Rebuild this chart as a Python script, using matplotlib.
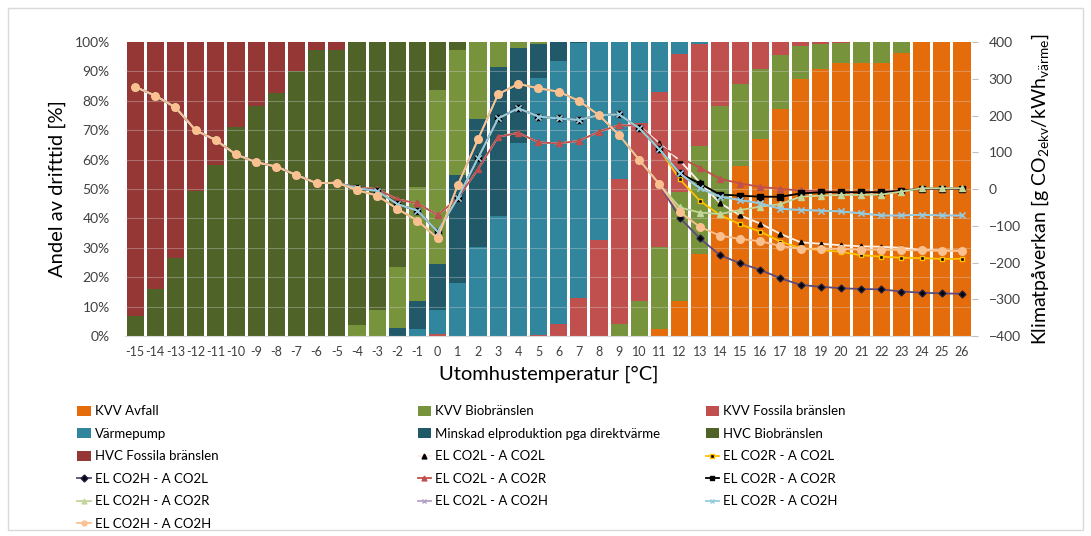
import numpy as np
import pandas as pd
import matplotlib
matplotlib.use("Agg")
import matplotlib.pyplot as plt
from matplotlib.patches import Patch, Rectangle
from matplotlib.lines import Line2D

plt.rcParams['font.family'] = ['Lato', 'DejaVu Sans']
plt.rcParams['mathtext.fontset'] = 'custom'
plt.rcParams['mathtext.rm'] = 'Lato'
plt.rcParams['mathtext.it'] = 'Lato:italic'

temps = list(range(-15, 27))

# stacked shares [%]
kvv_avfall = [0, 0, 0, 0, 0, 0, 0, 0, 0, 0, 0, 0, 0, 0, 0, 0, 0, 0, 0, 0, 0, 0, 0, 0, 0, 0,
              2.3, 12.0, 27.9, 41.2, 57.8, 67.1, 77.1, 87.5, 90.9, 93.0, 93.0, 93.0, 96.4, 100, 100, 100]
kvv_bio = [0, 0, 0, 0, 0, 0, 0, 0, 0, 0, 0, 3.9, 8.7, 20.8, 39.0, 59.2, 42.5, 26.1, 8.6, 1.9, 0.8, 0,
           0, 0, 4.0, 12.0, 27.9, 37.1, 36.6, 37.2, 27.8, 23.6, 18.4, 11.1, 8.3, 6.7, 7.0, 7.0, 3.6, 0, 0, 0]
kvv_fossil = [0, 0, 0, 0, 0, 0, 0, 0, 0, 0, 0, 0, 0, 0, 0, 0.8, 0, 0, 0, 0, 0.5, 4.0,
              13.1, 32.8, 49.5, 60.4, 52.7, 46.8, 34.7, 21.6, 14.4, 9.3, 4.5, 1.4, 0.8, 0.3, 0, 0, 0, 0, 0, 0]
varmepump = [0, 0, 0, 0, 0, 0, 0, 0, 0, 0, 0, 0, 0, 0, 2.3, 8.0, 18.2, 30.3, 40.7, 65.8, 87.3, 89.7,
             86.4, 67.2, 46.5, 27.6, 17.1, 4.2, 0.8, 0, 0, 0, 0, 0, 0, 0, 0, 0, 0, 0, 0, 0]
minskad_el = [0, 0, 0, 0, 0, 0, 0, 0, 0, 0, 0, 0, 0, 2.6, 9.5, 15.7, 36.7, 43.6, 50.7, 32.3, 11.4, 6.3,
              0.5, 0, 0, 0, 0, 0, 0, 0, 0, 0, 0, 0, 0, 0, 0, 0, 0, 0, 0, 0]
hvc_bio = [6.9, 15.9, 26.5, 49.2, 58.1, 71.0, 78.1, 82.7, 90.3, 97.4, 97.4, 96.1, 91.3, 76.6, 49.3, 16.3,
           2.6, 0, 0, 0, 0, 0, 0, 0, 0, 0, 0, 0, 0, 0, 0, 0, 0, 0, 0, 0, 0, 0, 0, 0, 0, 0]
hvc_fossil = [93.1, 84.1, 73.5, 50.8, 41.9, 29.0, 21.9, 17.3, 9.7, 2.6, 2.6, 0, 0, 0, 0, 0, 0, 0, 0, 0,
              0, 0, 0, 0, 0, 0, 0, 0, 0, 0, 0, 0, 0, 0, 0, 0, 0, 0, 0, 0, 0, 0]

# climate impact [g CO2ekv/kWh värme]
el_l_a_l = [278, 254, 222, 160, 133, 94, 73, 61, 38, 16, 17, 4, 0, -28, -39, -71, -25, 54, 142, 153, 127,
            124, 131, 156, 174, 172, 124, 78, 18, -38, -72, -94, -122, -145, -149, -153, -156, -157,
            -160, -166, -167, -168]
el_r_a_l = [278, 254, 222, 160, 133, 94, 73, 61, 38, 16, 17, 2, -5, -41, -59, -116, -24, 84, 192, 220, 197,
            192, 188, 201, 203, 165, 108, 27, -32, -71, -96, -116, -143, -161, -166, -171, -180, -184,
            -187, -188, -190, -190]
el_h_a_l = [278, 254, 222, 160, 133, 94, 73, 61, 38, 16, 17, -3, -18, -54, -86, -134, 11, 135, 258, 286,
            274, 265, 240, 201, 147, 79, 13, -78, -134, -180, -202, -220, -243, -261, -266, -270, -272,
            -273, -279, -282, -284, -285]
el_l_a_r = [278, 254, 222, 160, 133, 94, 73, 61, 38, 16, 17, 4, 0, -28, -39, -71, -25, 54, 142, 153, 127,
            124, 131, 156, 174, 172, 118, 86, 58, 28, 15, 6, 0, -4, -6, -8, -8, -8, -4, 1, 1, 1]
el_r_a_r = [278, 254, 222, 160, 133, 94, 73, 61, 38, 16, 17, 2, -5, -41, -59, -116, -24, 84, 192, 220, 197,
            192, 188, 201, 203, 165, 108, 43, 15, -15, -18, -21, -21, -12, -9, -9, -9, -9, -5, 1, 1, 1]
el_h_a_r = [278, 254, 222, 160, 133, 94, 73, 61, 38, 16, 17, -3, -18, -54, -86, -134, 11, 135, 258, 286,
            274, 265, 240, 201, 147, 79, 13, -50, -64, -68, -57, -48, -41, -21, -18, -16, -16, -15, -7,
            2, 2, 2]
el_l_a_h = [278, 254, 222, 160, 133, 94, 73, 61, 38, 16, 17, 2, -5, -41, -59, -116, -24, 84, 192, 220, 197,
            192, 188, 201, 203, 165, 108, 43, 2, -21, -30, -39, -54, -57, -59, -61, -66, -72, -72, -70,
            -72, -72]
el_r_a_h = [278, 254, 222, 160, 133, 94, 73, 61, 38, 16, 17, 2, -5, -41, -59, -116, -24, 84, 192, 220, 197,
            192, 188, 201, 203, 165, 108, 43, 2, -21, -30, -39, -54, -57, -59, -61, -66, -72, -72, -70,
            -72, -72]
el_h_a_h = [278, 254, 222, 160, 133, 94, 73, 61, 38, 16, 17, -3, -18, -54, -86, -134, 11, 135, 258, 286,
            274, 265, 240, 201, 147, 79, 13, -62, -103, -127, -136, -142, -155, -163, -162, -163, -165,
            -165, -166, -167, -168, -168]

bar_names = ['KVV Avfall', 'KVV Biobränslen', 'KVV Fossila bränslen', 'Värmepump',
             'Minskad elproduktion pga direktvärme', 'HVC Biobränslen', 'HVC Fossila bränslen']
bar_colors = ['#E46C0A', '#77933C', '#C0504D', '#31859C', '#215968', '#4F6228', '#953735']

t = np.array(temps)
bio = np.array(kvv_bio)
# in the original the KVV bio block sits low on the warm side and above the heat pump on the cold side
stack = pd.DataFrame({
    'avfall': kvv_avfall,
    'bio_warm': np.where(t >= 9, bio, 0),
    'fossil': kvv_fossil,
    'vp': varmepump,
    'minskad': minskad_el,
    'bio_cold': np.where(t < 9, bio, 0),
    'hvc_bio': hvc_bio,
    'hvc_fossil': hvc_fossil,
}, index=temps)
stack = stack.div(stack.sum(axis=1), axis=0) * 100
stack_colors = ['#E46C0A', '#77933C', '#C0504D', '#31859C', '#215968', '#77933C', '#4F6228', '#953735']

lines = [
    ('EL CO2L - A CO2L', el_l_a_l, '#FBEFE6', '^', 'black', 'black', 3.5),
    ('EL CO2R - A CO2L', el_r_a_l, '#FFC000', 's', 'black', '#FFC000', 3.5),
    ('EL CO2H - A CO2L', el_h_a_l, '#5F497A', 'D', 'black', '#1F1F3F', 3.5),
    ('EL CO2L - A CO2R', el_l_a_r, '#C0504D', '^', '#C0504D', '#C0504D', 4),
    ('EL CO2R - A CO2R', el_r_a_r, '#000000', 's', 'black', 'black', 4.5),
    ('EL CO2H - A CO2R', el_h_a_r, '#C3D69B', '^', '#C3D69B', '#C3D69B', 5),
    ('EL CO2L - A CO2H', el_l_a_h, '#B3A2C7', 'x', '#B3A2C7', '#B3A2C7', 5),
    ('EL CO2R - A CO2H', el_r_a_h, '#93CDDD', 'x', '#93CDDD', '#93CDDD', 5),
    ('EL CO2H - A CO2H', el_h_a_h, '#FAC090', 'o', '#FAC090', '#FAC090', 5.5),
]

fig = plt.figure(figsize=(10.91, 5.36), dpi=100)
fig.add_artist(Rectangle((0.007, 0.012), 0.986, 0.974, transform=fig.transFigure,
                         fill=False, edgecolor='#d9d9d9', linewidth=1))
ax = fig.add_axes([0.1146, 0.3731, 0.7764, 0.5485])
x = np.arange(len(temps))
bottom = np.zeros(len(temps))
for col, c in zip(stack.columns, stack_colors):
    ax.bar(x, stack[col].values, 0.85, bottom=bottom, color=c, zorder=2)
    bottom += stack[col].values
for yy in np.arange(10, 100, 10):
    ax.axhline(yy, color='#d9d9d9', lw=0.8, alpha=0.35, zorder=3)

ax.set_xlim(-0.5, len(temps) - 0.5)
ax.set_ylim(0, 100)
ax.set_yticks(np.arange(0, 101, 10))
ax.set_yticklabels([f'{v}%' for v in range(0, 101, 10)], fontsize=10, color='#404040')
ax.set_xticks(x)
ax.set_xticklabels([str(v) for v in temps], fontsize=9, color='#404040')
ax.tick_params(axis='y', length=0, pad=11)
ax.tick_params(axis='x', length=0, pad=7)
ax.set_ylabel('Andel av drifttid [%]', fontsize=14.5, labelpad=6)
ax.set_xlabel('Utomhustemperatur [°C]', fontsize=14.5, labelpad=6)
for s in ['top', 'right', 'left']:
    ax.spines[s].set_visible(False)
ax.spines['bottom'].set_color('#d9d9d9')

ax2 = ax.twinx()
for name, vals, c, m, mfc, mec, ms in lines:
    ax2.plot(x, vals, color=c, lw=1.3, marker=m, markerfacecolor=mfc,
             markeredgecolor=mec, markersize=ms, markeredgewidth=1, zorder=4)
ax2.set_ylim(-400, 400)
ax2.set_yticks(np.arange(-400, 401, 100))
ax2.tick_params(axis='y', labelsize=10, labelcolor='#404040', length=4, color='#bfbfbf', pad=8)
for s in ['top', 'right', 'left', 'bottom']:
    ax2.spines[s].set_visible(False)
ax2.set_ylabel('Klimatpåverkan [g CO$_{\\mathrm{2ekv}}$/kWh$_{\\mathrm{värme}}$]', fontsize=14, labelpad=6)

# legend in three hand-placed columns
bar_h = [Patch(facecolor=c, edgecolor='none') for c in bar_colors]
line_h = [Line2D([], [], color=c, lw=1.3, marker=m, markerfacecolor=mfc, markeredgecolor=mec,
                 markersize=3.5) for _, _, c, m, mfc, mec, _ in lines]
labels_all = bar_names + [l[0] for l in lines]
handles_all = bar_h + line_h
col_idx = [[0, 3, 6, 9, 12, 15], [1, 4, 7, 10, 13], [2, 5, 8, 11, 14]]
col_x = [0.071, 0.383, 0.647]
for cx, idxs in zip(col_x, col_idx):
    fig.legend([handles_all[i] for i in idxs], [labels_all[i] for i in idxs],
               loc='upper left', bbox_to_anchor=(cx, 0.244), frameon=False,
               fontsize=9.5, handlelength=1.0, handleheight=0.8, handletextpad=0.3,
               labelspacing=0.8, borderaxespad=0, borderpad=0)

fig.savefig('out.png', dpi=100)
